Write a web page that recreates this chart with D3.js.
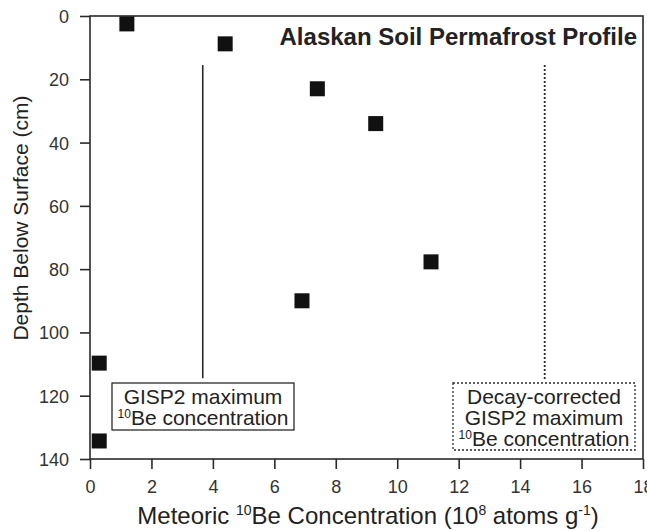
<!DOCTYPE html>
<html>
<head>
<meta charset="utf-8">
<script src="https://cdn.jsdelivr.net/npm/d3@7"></script>
<style>
  body { margin: 0; background: #fff; }
  text { font-family: "Liberation Sans", Arial, sans-serif; fill: #222; }
</style>
</head>
<body>
<div id="chart"></div>
<script>
// concentration (10^8 atoms/g) and depth (cm) for each soil sample
const concentration = [1.2, 4.4, 7.4, 9.3, 11.1, 6.9, 0.3, 0.3];
const depth = [2.5, 8.8, 23, 34, 77.7, 90, 109.7, 134.3];

const xTicks = [0, 2, 4, 6, 8, 10, 12, 14, 16, 18];
const yTicks = [0, 20, 40, 60, 80, 100, 120, 140];

// reference lines: GISP2 max and decay-corrected GISP2 max
const refLines = [
    { value: 3.67, top: 15.5, bottom: 114.5, dash: null },
    { value: 14.8, top: 15.5, bottom: 115, dash: "2,2" }
];

const width = 647, height = 531;
const margin = { top: 16, right: 4, bottom: 72, left: 90 };

const svg = d3.select("#chart").append("svg")
    .attr("width", width).attr("height", height);

const x = d3.scaleLinear().domain([0, 18]).range([margin.left, width - margin.right]);
const y = d3.scaleLinear().domain([0, 140]).range([margin.top, height - margin.bottom]);

const ink = "#2a2a2a";

// frame
svg.append("rect")
    .attr("x", x(0)).attr("y", y(0))
    .attr("width", x(18) - x(0)).attr("height", y(140) - y(0))
    .attr("fill", "none").attr("stroke", ink).attr("stroke-width", 1.6);

const xAxis = svg.append("g")
    .attr("transform", `translate(0,${y(140)})`)
    .call(d3.axisBottom(x).tickValues(xTicks).tickSize(10).tickPadding(11).tickFormat(d3.format("d")));

const yAxis = svg.append("g")
    .attr("transform", `translate(${x(0)},0)`)
    .call(d3.axisLeft(y).tickValues(yTicks).tickSize(10).tickPadding(11).tickFormat(d3.format("d")));

[xAxis, yAxis].forEach(g => {
    g.select(".domain").remove();
    g.selectAll("line").attr("stroke", ink).attr("stroke-width", 1.6);
    g.selectAll("text").style("font-size", "18px").style("fill", "#333");
});
yAxis.selectAll("text").attr("dy", "0.36em");

// reference lines
refLines.forEach(r => {
    svg.append("line")
        .attr("x1", x(r.value)).attr("x2", x(r.value))
        .attr("y1", y(r.top)).attr("y2", y(r.bottom))
        .attr("stroke", ink).attr("stroke-width", r.dash ? 1.8 : 1.6)
        .attr("stroke-dasharray", r.dash);
});

// data squares
const sz = 15;
svg.selectAll(".pt").data(concentration.map((c, i) => ({ c, d: depth[i] })))
    .enter().append("rect")
    .attr("class", "pt")
    .attr("x", d => x(d.c) - sz / 2).attr("y", d => y(d.d) - sz / 2)
    .attr("width", sz).attr("height", sz)
    .attr("fill", "#111");

// title
svg.append("text")
    .attr("x", 637).attr("y", 45)
    .attr("text-anchor", "end")
    .style("font-size", "24px").style("font-weight", "bold")
    .text("Alaskan Soil Permafrost Profile");

// label boxes under the reference lines
function labelBox(x0, y0, w, h, lines, dash) {
    svg.append("rect")
        .attr("x", x0).attr("y", y0).attr("width", w).attr("height", h)
        .attr("fill", "#fff").attr("stroke", ink).attr("stroke-width", 1.3)
        .attr("stroke-dasharray", dash);
    const t = svg.append("text")
        .attr("text-anchor", "middle").style("font-size", "21px");
    lines.forEach((ln, i) => {
        const ts = t.append("tspan").attr("x", x0 + w / 2).attr("y", y0 + 21 + i * 21);
        if (ln.sup) {
            ts.append("tspan").style("font-size", "12px").attr("dy", "-7").text(ln.sup);
            ts.append("tspan").attr("dy", "7").text(ln.text);
        } else {
            ts.text(ln.text);
        }
    });
}

labelBox(112, 383, 182, 47, [
    { text: "GISP2 maximum" },
    { sup: "10", text: "Be concentration" }
], null);

labelBox(453, 383, 182, 67, [
    { text: "Decay-corrected" },
    { text: "GISP2 maximum" },
    { sup: "10", text: "Be concentration" }
], "2,2");

// axis titles
const xt = svg.append("text")
    .attr("x", 368).attr("y", 524)
    .attr("text-anchor", "middle").style("font-size", "24px");
xt.append("tspan").text("Meteoric ");
xt.append("tspan").style("font-size", "14px").attr("dy", "-9").text("10");
xt.append("tspan").attr("dy", "9").text("Be Concentration (10");
xt.append("tspan").style("font-size", "14px").attr("dy", "-9").text("8");
xt.append("tspan").attr("dy", "9").text(" atoms g");
xt.append("tspan").style("font-size", "14px").attr("dy", "-9").text("-1");
xt.append("tspan").attr("dy", "9").text(")");

svg.append("text")
    .attr("transform", `translate(28,218) rotate(-90)`)
    .attr("text-anchor", "middle").style("font-size", "21px")
    .text("Depth Below Surface (cm)");
</script>
</body>
</html>
